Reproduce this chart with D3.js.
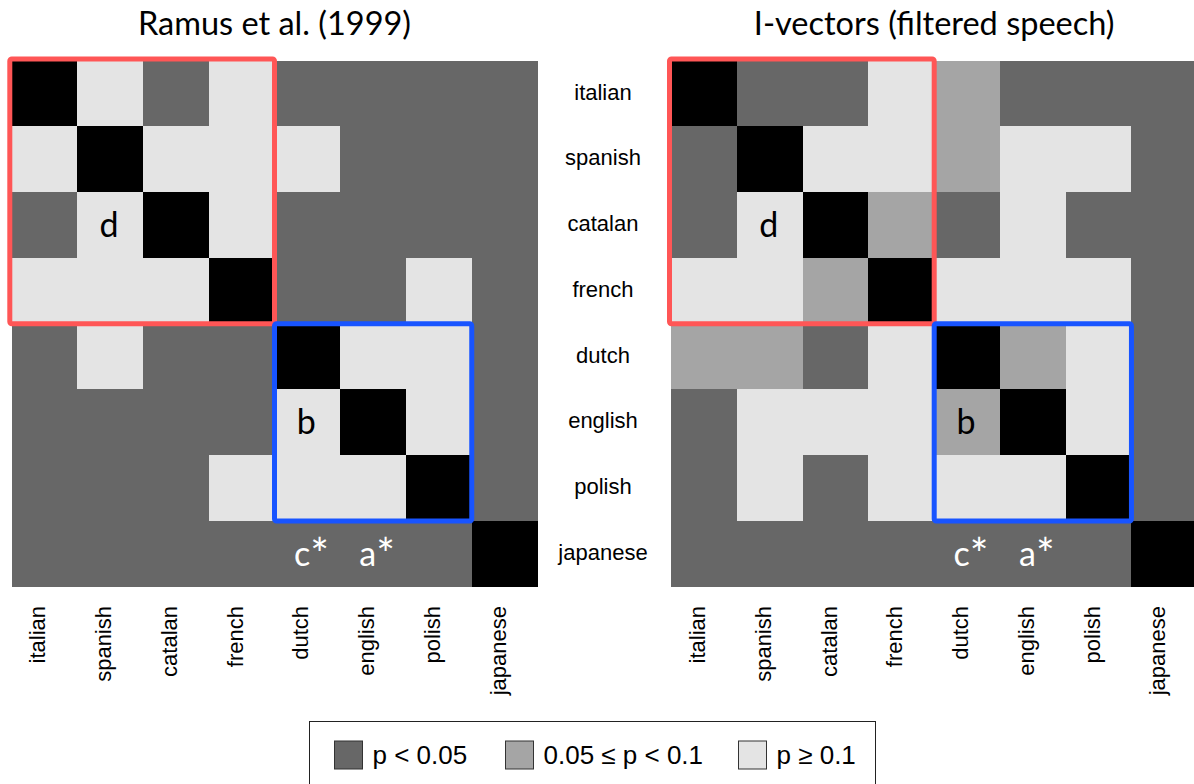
<!DOCTYPE html>
<html>
<head>
<meta charset="utf-8">
<script src="https://cdn.jsdelivr.net/npm/d3@7"></script>
<style>
  body { margin: 0; background: #fff; }
  svg { display: block; }
  .title { font-family: Lato, "Open Sans", sans-serif; font-size: 32.5px; fill: #000; }
  .lab { font-family: "Liberation Sans", Arial, sans-serif; font-size: 22px; fill: #000; }
  .note { font-family: Lato, "Open Sans", sans-serif; font-size: 34px; }
  .leg { font-family: "Liberation Sans", Arial, sans-serif; font-size: 26px; fill: #000; }
</style>
</head>
<body>
<svg id="chart" width="1194" height="784"></svg>
<script>
// languages, top to bottom / left to right
var languages = ['italian', 'spanish', 'catalan', 'french', 'dutch', 'english', 'polish', 'japanese'];

// 0 = same language, 1 = p < 0.05, 2 = 0.05 <= p < 0.1, 3 = p >= 0.1
var ramus = [
  [0, 3, 1, 3, 1, 1, 1, 1],
  [3, 0, 3, 3, 3, 1, 1, 1],
  [1, 3, 0, 3, 1, 1, 1, 1],
  [3, 3, 3, 0, 1, 1, 3, 1],
  [1, 3, 1, 1, 0, 3, 3, 1],
  [1, 1, 1, 1, 3, 0, 3, 1],
  [1, 1, 1, 3, 3, 3, 0, 1],
  [1, 1, 1, 1, 1, 1, 1, 0]
];
var ivectors = [
  [0, 1, 1, 3, 2, 1, 1, 1],
  [1, 0, 3, 3, 2, 3, 3, 1],
  [1, 3, 0, 2, 1, 3, 1, 1],
  [3, 3, 2, 0, 3, 3, 3, 1],
  [2, 2, 1, 3, 0, 2, 3, 1],
  [1, 3, 3, 3, 2, 0, 3, 1],
  [1, 3, 1, 3, 3, 3, 0, 1],
  [1, 1, 1, 1, 1, 1, 1, 0]
];

var titles = ['Ramus et al. (1999)', 'I-vectors (filtered speech)'];
var legendLabels = ['p < 0.05', '0.05 \u2264 p < 0.1', 'p \u2265 0.1'];

// letters written in cells: [row, column, letter, star, colour]
var notes = [
  ['catalan', 'spanish', 'd', '', '#000'],
  ['english', 'dutch', 'b', '', '#000'],
  ['japanese', 'dutch', 'c', '*', '#fff'],
  ['japanese', 'english', 'a', '*', '#fff']
];

// red = romance group, blue = stress-timed group
var groups = [
  ['italian', 'french', '#ff5656'],
  ['dutch', 'polish', '#1854ff']
];

var fill = d3.scaleOrdinal().domain([0, 1, 2, 3]).range(['#000000', '#676767', '#a5a5a5', '#e4e4e4']);

var svg = d3.select('#chart');
var cell = 65.75;
var y = d3.scaleBand().domain(languages).range([60.7, 60.7 + 8 * cell]);

function panel(data, x0, title) {
  var x = d3.scaleBand().domain(languages).range([x0, x0 + 8 * cell]);
  var g = svg.append('g');

  g.append('text')
    .attr('class', 'title')
    .attr('x', x0 + 4 * cell)
    .attr('y', 35)
    .attr('text-anchor', 'middle')
    .text(title);

  data.forEach(function (row, i) {
    g.selectAll('rect.r' + i)
      .data(row)
      .enter().append('rect')
      .attr('x', function (d, j) { return x(languages[j]); })
      .attr('y', y(languages[i]))
      .attr('width', x.bandwidth() + 0.5)
      .attr('height', y.bandwidth() + 0.5)
      .attr('shape-rendering', 'crispEdges')
      .attr('fill', function (d) { return fill(d); });
  });

  var notesText = g.selectAll('text.note')
    .data(notes)
    .enter().append('text')
    .attr('class', 'note')
    .attr('x', function (d) { return x(d[1]) + x.bandwidth() / 2 + (d[3] ? 4 : -1); })
    .attr('y', function (d) { return y(d[0]) + y.bandwidth() / 2 + 12; })
    .attr('text-anchor', 'middle')
    .attr('fill', function (d) { return d[4]; });
  notesText.append('tspan').text(function (d) { return d[2]; });
  notesText.append('tspan')
    .attr('font-size', '44px')
    .attr('dy', 4)
    .text(function (d) { return d[3]; });

  g.selectAll('rect.box')
    .data(groups)
    .enter().append('rect')
    .attr('x', function (d, k) { return x(d[0]) - (k ? 0 : 1.7); })
    .attr('y', function (d, k) { return y(d[0]) - (k ? 0 : 1.7); })
    .attr('width', function (d, k) { return x(d[1]) + x.bandwidth() - x(d[0]) + (k ? 0 : 1.7); })
    .attr('height', function (d, k) { return y(d[1]) + y.bandwidth() - y(d[0]) + (k ? 0 : 1.7); })
    .attr('rx', 2)
    .attr('fill', 'none')
    .attr('stroke', function (d) { return d[2]; })
    .attr('stroke-width', 5);

  g.selectAll('text.col')
    .data(languages)
    .enter().append('text')
    .attr('class', 'lab')
    .attr('text-anchor', 'end')
    .attr('transform', function (d) {
      return 'translate(' + (x(d) + x.bandwidth() / 2 + 1) + ',606)rotate(-90)';
    })
    .text(function (d) { return d; });
}

panel(ramus, 11.5, titles[0]);
panel(ivectors, 671.2, titles[1]);

// row labels between the panels
svg.selectAll('text.row')
  .data(languages)
  .enter().append('text')
  .attr('class', 'lab')
  .attr('x', 603)
  .attr('y', function (d) { return y(d) + y.bandwidth() / 2; })
  .attr('dy', '0.28em')
  .attr('text-anchor', 'middle')
  .text(function (d) { return d; });

// legend
var leg = svg.append('g');
leg.append('rect')
  .attr('x', 309.5).attr('y', 721.5)
  .attr('width', 566).attr('height', 100)
  .attr('fill', 'none').attr('stroke', '#222').attr('stroke-width', 1);

var legX = [334.5, 505.5, 738.5];
legendLabels.forEach(function (t, k) {
  leg.append('rect')
    .attr('x', legX[k]).attr('y', 741)
    .attr('width', 28).attr('height', 28)
    .attr('fill', fill(k + 1))
    .attr('stroke', '#333').attr('stroke-width', 1);
  leg.append('text')
    .attr('class', 'leg')
    .attr('x', legX[k] + 38)
    .attr('y', 764)
    .text(t);
});
</script>
</body>
</html>
